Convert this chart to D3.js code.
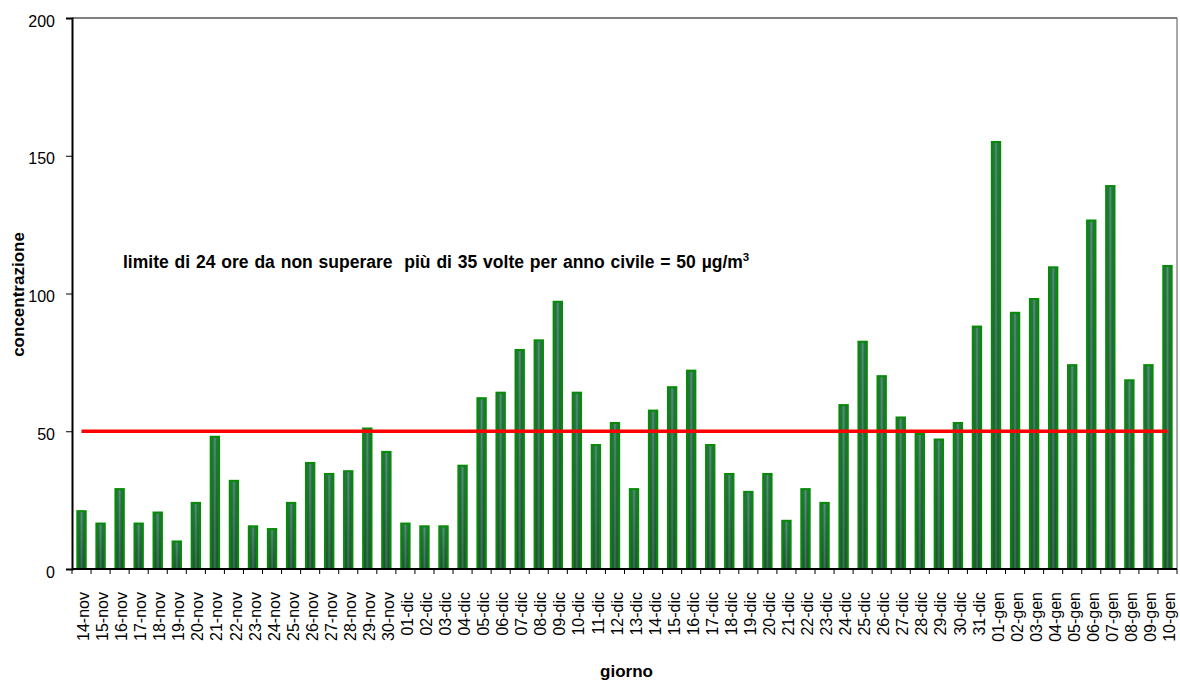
<!DOCTYPE html>
<html>
<head>
<meta charset="utf-8">
<script src="https://cdn.jsdelivr.net/npm/d3@7"></script>
<style>
  body { margin: 0; background: #fff; }
  svg { display: block; font-family: "Liberation Sans", Arial, sans-serif; }
</style>
</head>
<body>
<svg id="canvas"></svg>
<script>
// Data
const days = [
    "14-nov","15-nov","16-nov","17-nov","18-nov","19-nov","20-nov","21-nov","22-nov","23-nov",
    "24-nov","25-nov","26-nov","27-nov","28-nov","29-nov","30-nov",
    "01-dic","02-dic","03-dic","04-dic","05-dic","06-dic","07-dic","08-dic","09-dic","10-dic",
    "11-dic","12-dic","13-dic","14-dic","15-dic","16-dic","17-dic","18-dic","19-dic","20-dic",
    "21-dic","22-dic","23-dic","24-dic","25-dic","26-dic","27-dic","28-dic","29-dic","30-dic","31-dic",
    "01-gen","02-gen","03-gen","04-gen","05-gen","06-gen","07-gen","08-gen","09-gen","10-gen"
];
const concentration = [
    21, 16.5, 29, 16.5, 20.5, 10, 24, 48, 32, 15.5,
    14.5, 24, 38.5, 34.5, 35.5, 51, 42.5,
    16.5, 15.5, 15.5, 37.5, 62, 64, 79.5, 83, 97, 64,
    45, 53, 29, 57.5, 66, 72, 45, 34.5, 28, 34.5,
    17.5, 29, 24, 59.5, 82.5, 70, 55, 49, 47, 53, 88,
    155, 93, 98, 109.5, 74, 126.5, 139, 68.5, 74, 110
];
const limitValue = 50;
const yTicks = [0, 50, 100, 150, 200];

const width = 1180;
const height = 686;
const margin = { left: 72, right: 3, top: 18, bottom: 117 };

const svg = d3.select("#canvas")
    .attr("width", width)
    .attr("height", height);

const x = d3.scaleBand()
    .domain(days)
    .range([margin.left, width - margin.right])
    .paddingInner(0.56)
    .paddingOuter(0.28);

const y = d3.scaleLinear()
    .domain([0, 200])
    .range([height - margin.bottom, margin.top]);

// Gradients for the bars (light centre stripe, darker towards bottom)
const defs = svg.append("defs");
const hGrad = defs.append("linearGradient").attr("id", "barH")
    .attr("x1", 0).attr("x2", 1).attr("y1", 0).attr("y2", 0);
[["0%", "#1f7a2f"], ["30%", "#2c7048"], ["50%", "#4a9a6e"], ["70%", "#2c7048"], ["100%", "#1f7a2f"]]
    .forEach(([o, c]) => hGrad.append("stop").attr("offset", o).attr("stop-color", c));
const vGrad = defs.append("linearGradient").attr("id", "barV")
    .attr("x1", 0).attr("x2", 0).attr("y1", 0).attr("y2", 1);
vGrad.append("stop").attr("offset", "0%").attr("stop-color", "#000").attr("stop-opacity", 0);
vGrad.append("stop").attr("offset", "100%").attr("stop-color", "#000").attr("stop-opacity", 0.25);

// Frame (top and right)
svg.append("line")
    .attr("x1", margin.left).attr("x2", width - margin.right)
    .attr("y1", y(200)).attr("y2", y(200))
    .attr("stroke", "#000").attr("stroke-width", 1);
svg.append("line")
    .attr("x1", width - margin.right).attr("x2", width - margin.right)
    .attr("y1", y(200)).attr("y2", y(0))
    .attr("stroke", "#555").attr("stroke-width", 1);

// Bars
const bars = svg.append("g");
bars.selectAll("rect.bar")
    .data(days)
    .enter()
    .append("rect")
    .attr("class", "bar")
    .attr("x", (d) => x(d))
    .attr("width", x.bandwidth())
    .attr("y", (d, i) => y(concentration[i]))
    .attr("height", (d, i) => y(0) - y(concentration[i]))
    .attr("fill", "url(#barH)")
    .attr("stroke", "#078a07")
    .attr("stroke-width", 2);
bars.selectAll("rect.shade")
    .data(days)
    .enter()
    .append("rect")
    .attr("class", "shade")
    .attr("x", (d) => x(d) + 1)
    .attr("width", x.bandwidth() - 2)
    .attr("y", (d, i) => y(concentration[i]) + 1)
    .attr("height", (d, i) => Math.max(0, y(0) - y(concentration[i]) - 2))
    .attr("fill", "url(#barV)");

// Y axis
const yAxis = svg.append("g")
    .attr("transform", `translate(${margin.left},0)`)
    .call(d3.axisLeft(y).tickValues(yTicks).tickSize(6).tickPadding(11));
yAxis.select(".domain").attr("stroke", "#000").attr("stroke-width", 2);
yAxis.selectAll(".tick line").attr("stroke", "#000");
yAxis.selectAll(".tick text")
    .attr("font-size", 16)
    .attr("dy", "0.5em")
    .attr("fill", "#000");

// X axis: ticks at category boundaries
const xAxisG = svg.append("g")
    .attr("transform", `translate(0,${y(0)})`);
xAxisG.append("line")
    .attr("x1", margin.left).attr("x2", width - margin.right)
    .attr("stroke", "#000").attr("stroke-width", 2);
xAxisG.selectAll("line.tick")
    .data(d3.range(days.length + 1))
    .enter()
    .append("line")
    .attr("class", "tick")
    .attr("x1", (i) => margin.left + i * x.step())
    .attr("x2", (i) => margin.left + i * x.step())
    .attr("y1", 0).attr("y2", 5)
    .attr("stroke", "#000");
xAxisG.selectAll("text")
    .data(days)
    .enter()
    .append("text")
    .attr("transform", (d) => `translate(${x(d) + x.bandwidth() / 2 + 2},23) rotate(-90)`)
    .attr("text-anchor", "end")
    .attr("dy", "0.35em")
    .attr("font-size", 16)
    .attr("fill", "#000")
    .text((d) => d);

// Limit line (50)
svg.append("path")
    .datum(days)
    .attr("d", d3.line()
        .x((d) => x(d) + x.bandwidth() / 2)
        .y(() => y(limitValue)))
    .attr("fill", "none")
    .attr("stroke", "#ff0000")
    .attr("stroke-width", 3.5);

// Annotation
const note = svg.append("text")
    .attr("x", 123)
    .attr("y", 268)
    .attr("font-size", 17.5)
    .attr("font-weight", "bold")
    .style("white-space", "pre")
    .style("word-spacing", "1px")
    .attr("fill", "#000");
note.append("tspan").text("limite di 24 ore da non superare  più di 35 volte per anno civile = 50 µg/m");
note.append("tspan").attr("dy", -7).attr("font-size", 11.5).text("3");

// Axis titles
svg.append("text")
    .attr("transform", `translate(24,${(y(0) + y(200)) / 2 + 1}) rotate(-90)`)
    .attr("text-anchor", "middle")
    .attr("font-size", 17)
    .attr("font-weight", "bold")
    .text("concentrazione");

svg.append("text")
    .attr("x", (margin.left + width - margin.right) / 2 + 2)
    .attr("y", 677)
    .attr("text-anchor", "middle")
    .attr("font-size", 17)
    .attr("font-weight", "bold")
    .text("giorno");
</script>
</body>
</html>
